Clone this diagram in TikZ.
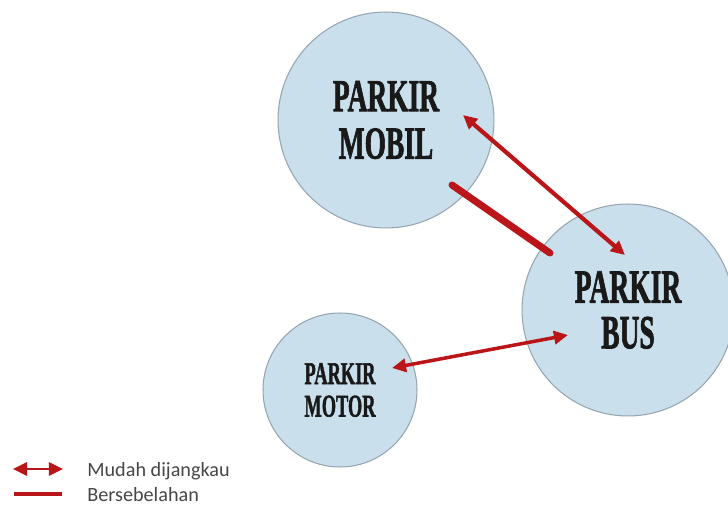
\documentclass[tikz,border=0pt]{standalone}
\usepackage{fontspec}
\usepackage{graphicx}
\usepackage{xcolor}
\usepackage{tikz}
\usetikzlibrary{shapes,arrows,positioning,calc,arrows.meta}
\setmainfont{Liberation Serif}
\newfontfamily\zonefont[UprightFont={* Bold}, FakeBold=2]{Liberation Serif}
\newfontfamily\legendfont{Carlito}

\definecolor{zonefill}{RGB}{201,224,236}
\definecolor{zoneedge}{RGB}{150,165,175}
\definecolor{linkred}{RGB}{186,22,26}
\definecolor{legendgray}{RGB}{70,70,70}
\newcommand{\zonetext}[2][0.6]{\scalebox{#1}[1]{#2}}

\tikzset{
    zone/.style={circle, draw=zoneedge, fill=zonefill, line width=0.6pt, inner sep=0pt, align=center, text=black!90},
    reach/.style={linkred, line width=2.4pt, {Triangle[length=8pt,width=7.5pt]}-{Triangle[length=8pt,width=7.5pt]}},
    adjacent/.style={linkred, line width=4pt, line cap=round},
    keytext/.style={anchor=west, inner sep=0pt, text=legendgray, font=\legendfont\fontsize{11.5}{12}\selectfont},
}

\begin{document}
\begin{tikzpicture}[x=0.02cm, y=-0.02cm]
    \useasboundingbox (0,0) rectangle (728,510);

    % parking zones
    \node (mobil) at (386,120) [zone, minimum size=4.32cm, font=\zonefont\fontsize{26}{27}\selectfont]
        {\zonetext{PARKIR}\\\zonetext{MOBIL}};
    \node (bus) at (628,310) [zone, minimum size=4.24cm, font=\zonefont\fontsize{27}{26}\selectfont]
        {\zonetext[0.58]{PARKIR}\\\zonetext[0.58]{BUS}};
    \node (motor) at (340,390) [zone, minimum size=3.08cm, font=\zonefont\fontsize{18}{18.5}\selectfont]
        {\zonetext[0.58]{PARKIR}\\\zonetext[0.58]{MOTOR}};

    % link ends
    \coordinate (mobilA) at ([shift={(77,-5)}]mobil.center);
    \coordinate (busA) at ([shift={(-3,-55)}]bus.center);
    \coordinate (mobilB) at ([shift={(66,65)}]mobil.center);
    \coordinate (busB) at ([shift={(-78,-57)}]bus.center);
    \coordinate (motorC) at ([shift={(52,-22)}]motor.center);
    \coordinate (busC) at ([shift={(-60,25)}]bus.center);

    \draw[reach] (mobilA) -- (busA);
    \draw[adjacent] (mobilB) -- (busB);
    \draw[reach, line width=2pt] (motorC) -- (busC);

    % legend
    \coordinate (keyA1) at (13,469);
    \coordinate (keyA2) at (63,469);
    \coordinate (keyB1) at (14,494);
    \coordinate (keyB2) at (62,494);
    \draw[reach, line width=1.6pt] (keyA1) -- (keyA2);
    \draw[linkred, line width=2.8pt] (keyB1) -- (keyB2);
    \node (reachkey) at (87,471) [keytext] {Mudah dijangkau};
    \node (adjkey) at (87,495) [keytext] {Bersebelahan};
\end{tikzpicture}
\end{document}
